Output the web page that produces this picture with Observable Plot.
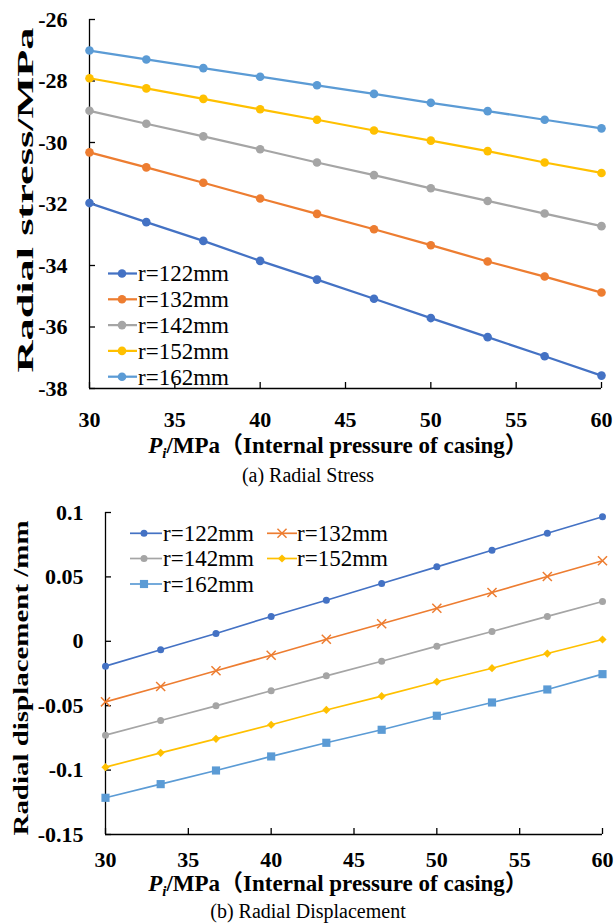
<!DOCTYPE html>
<html><head><meta charset="utf-8">
<script src="https://cdn.jsdelivr.net/npm/d3@7"></script>
<script src="https://cdn.jsdelivr.net/npm/@observablehq/plot@0.6"></script>
<style>
body{margin:0;background:#fff;}
#page{position:relative;width:614px;height:924px;overflow:hidden;background:#fff;}
#top{position:absolute;left:0;top:0;}
#bottom{position:absolute;left:0;top:490px;}
</style></head>
<body><div id="page"><div id="top"></div><div id="bottom"></div></div>
<script>
// ---------- data ----------
const pressure = [30, 33.33, 36.67, 40, 43.33, 46.67, 50, 53.33, 56.67, 60];
const seriesNames = ["r=122mm", "r=132mm", "r=142mm", "r=152mm", "r=162mm"];
const colors = ["#4472C4", "#ED7D31", "#A5A5A5", "#FFC000", "#5B9BD5"];

const stress122 = [-31.97, -32.59, -33.20, -33.85, -34.46, -35.08, -35.71, -36.33, -36.95, -37.58];
const stress132 = [-30.32, -30.81, -31.31, -31.82, -32.32, -32.82, -33.34, -33.87, -34.36, -34.88];
const stress142 = [-28.97, -29.39, -29.80, -30.22, -30.65, -31.06, -31.49, -31.90, -32.31, -32.72];
const stress152 = [-27.91, -28.24, -28.58, -28.92, -29.26, -29.61, -29.94, -30.28, -30.65, -30.99];
const stress162 = [-27.01, -27.30, -27.58, -27.86, -28.14, -28.42, -28.71, -28.98, -29.26, -29.54];

const disp122 = [-0.0193, -0.0066, 0.0061, 0.0193, 0.0319, 0.0449, 0.0578, 0.0707, 0.0839, 0.0967];
const disp132 = [-0.0470, -0.0351, -0.0229, -0.0108, 0.0016, 0.0136, 0.0257, 0.0379, 0.0503, 0.0625];
const disp142 = [-0.0729, -0.0615, -0.0501, -0.0384, -0.0268, -0.0155, -0.0038, 0.0076, 0.0193, 0.0309];
const disp152 = [-0.0977, -0.0866, -0.0757, -0.0648, -0.0533, -0.0426, -0.0314, -0.0209, -0.0095, 0.0014];
const disp162 = [-0.1215, -0.1109, -0.1003, -0.0894, -0.0788, -0.0687, -0.0578, -0.0475, -0.0374, -0.0255];

const xTicks = [30, 35, 40, 45, 50, 55, 60];
const stressTicks = [-38, -36, -34, -32, -30, -28, -26];
const stressTickLabels = ["-38", "-36", "-34", "-32", "-30", "-28", "-26"];
const dispTicks = [-0.15, -0.1, -0.05, 0, 0.05, 0.1];
const dispTickLabels = ["-0.15", "-0.1", "-0.05", "0", "0.05", "0.1"];

const stressYLabel = "Radial stress/MPa";
const dispYLabel = "Radial displacement /mm";
const xLabelRest = "/MPa（Internal pressure of casing）";
const captionA = "(a) Radial Stress";
const captionB = "(b) Radial Displacement";

const stressSeries = [stress122, stress132, stress142, stress152, stress162];
const dispSeries = [disp122, disp132, disp142, disp152, disp162];
const dispSymbols = ["circle", "times", "circle", "diamond2", "square"];
const dispRadius = [3.5, 4.2, 3.5, 3.7, 4.6];

const FONT = "'Liberation Serif', 'Times New Roman', serif";
const FONT_CJK = "'Liberation Serif', 'Noto Sans CJK SC', serif";

function axisMarks({W, H, ml, mr, mt, mb, xmin, ymin, yTicks, yLabels, xPad}) {
  const fw = W - ml - mr, fh = H - mt - mb;
  return [
    Plot.ruleX([xmin], {stroke: "#000", strokeWidth: 1.3}),
    Plot.ruleY([ymin], {stroke: "#000", strokeWidth: 1.3}),
    Plot.tickX(xTicks, {x: d => d, insetTop: fh - 6, stroke: "#000", strokeWidth: 1.3}),
    Plot.tickY(yTicks, {y: d => d, insetRight: fw - 6, stroke: "#000", strokeWidth: 1.3}),
    Plot.axisX(xTicks, {tickSize: 0, tickPadding: xPad, fontSize: 22, fontWeight: "bold", label: null, tickFormat: d => String(d)}),
    Plot.axisY(yTicks, {tickSize: 0, tickPadding: 22, fontSize: 22, fontWeight: "bold", label: null, tickFormat: (d, i) => yLabels[i]})
  ];
}

function addXLabel(svg, cx, baseline) {
  const t = svg.append("text").attr("x", cx).attr("y", baseline).attr("text-anchor", "middle")
    .attr("font-family", FONT_CJK).attr("font-size", 23).attr("font-weight", "bold").attr("fill", "#000");
  t.append("tspan").attr("font-style", "italic").attr("font-family", FONT).text("P");
  t.append("tspan").attr("font-style", "italic").attr("font-family", FONT).attr("font-size", 15).attr("dy", 5).text("i");
  t.append("tspan").attr("dy", -5).text(xLabelRest);
}
function addYLabel(svg, x, cy, size, len, label) {
  svg.append("text").attr("transform", `translate(${x},${cy}) rotate(-90)`).attr("text-anchor", "middle")
    .attr("font-family", FONT).attr("font-size", size).attr("font-weight", "bold").attr("fill", "#000")
    .attr("textLength", len).attr("lengthAdjust", "spacingAndGlyphs").text(label);
}
function addCaption(svg, cx, baseline, text) {
  svg.append("text").attr("x", cx).attr("y", baseline).attr("text-anchor", "middle")
    .attr("font-family", FONT).attr("font-size", 20).attr("font-weight", "normal").attr("fill", "#000").text(text);
}
function addLegendEntry(g, i, x0, x1, xm, xt, y, symbol, r, lw) {
  g.append("line").attr("x1", x0).attr("x2", x1).attr("y1", y).attr("y2", y)
    .attr("stroke", colors[i]).attr("stroke-width", lw);
  const sym = {circle: d3.symbolCircle, times: d3.symbolTimes, diamond2: d3.symbolDiamond2, square: d3.symbolSquare}[symbol];
  const p = g.append("path").attr("d", d3.symbol(sym, Math.PI * r * r)()).attr("transform", `translate(${xm},${y})`);
  if (symbol === "times") p.attr("fill", "none").attr("stroke", colors[i]).attr("stroke-width", 1.5);
  else p.attr("fill", colors[i]);
  g.append("text").attr("x", xt).attr("y", y + 7.8).attr("text-anchor", "start")
    .attr("font-family", FONT).attr("font-size", 23).attr("font-weight", "normal").attr("fill", "#000").text(seriesNames[i]);
}

// ---------- top chart ----------
{
  const W = 614, H = 490, ml = 89, mr = 13, mt = 19, mb = 102;
  const marks = [];
  stressSeries.forEach((vals, i) => {
    marks.push(Plot.line(pressure, {x: d => d, y: (d, j) => vals[j], stroke: colors[i], strokeWidth: 2.25}));
    marks.push(Plot.dot(pressure, {x: d => d, y: (d, j) => vals[j], fill: colors[i], r: 4.3, symbol: "circle"}));
  });
  const chart = Plot.plot({
    width: W, height: H, marginLeft: ml, marginRight: mr, marginTop: mt, marginBottom: mb,
    style: {fontFamily: FONT, background: "#fff", color: "#000", overflow: "visible"},
    x: {domain: [30, 60]}, y: {domain: [-38, -26]},
    marks: [...axisMarks({W, H, ml, mr, mt, mb, xmin: 30, ymin: -38, yTicks: stressTicks, yLabels: stressTickLabels, xPad: 23}), ...marks]
  });
  document.getElementById("top").appendChild(chart);
  const svg = d3.select(chart);
  addYLabel(svg, 33, 200, 24, 345, stressYLabel);
  addXLabel(svg, 338, 453);
  addCaption(svg, 308, 482, captionA);
  const g = svg.append("g");
  seriesNames.forEach((name, i) => addLegendEntry(g, i, 108, 137, 122, 138, 273.5 + i * 25.8, "circle", 4.3, 2.25));
}

// ---------- bottom chart ----------
{
  const W = 614, H = 434, ml = 105, mr = 12, mt = 22, mb = 90;
  const marks = [];
  dispSeries.forEach((vals, i) => {
    marks.push(Plot.line(pressure, {x: d => d, y: (d, j) => vals[j], stroke: colors[i], strokeWidth: 1.7}));
    if (dispSymbols[i] === "times")
      marks.push(Plot.dot(pressure, {x: d => d, y: (d, j) => vals[j], stroke: colors[i], strokeWidth: 1.5, fill: "none", r: dispRadius[i], symbol: "times"}));
    else
      marks.push(Plot.dot(pressure, {x: d => d, y: (d, j) => vals[j], fill: colors[i], r: dispRadius[i], symbol: dispSymbols[i]}));
  });
  const chart = Plot.plot({
    width: W, height: H, marginLeft: ml, marginRight: mr, marginTop: mt, marginBottom: mb,
    style: {fontFamily: FONT, background: "#fff", color: "#000", overflow: "visible"},
    x: {domain: [30, 60]}, y: {domain: [-0.15, 0.1]},
    marks: [...axisMarks({W, H, ml, mr, mt, mb, xmin: 30, ymin: -0.15, yTicks: dispTicks, yLabels: dispTickLabels, xPad: 17}), ...marks]
  });
  document.getElementById("bottom").appendChild(chart);
  const svg = d3.select(chart);
  addYLabel(svg, 28, 188, 22, 315, dispYLabel);
  addXLabel(svg, 338, 401);
  addCaption(svg, 308, 428, captionB);
  const g = svg.append("g");
  const pos = [[130, 162, 144, 163, 43.3], [267, 297, 282, 297, 43.3], [130, 162, 144, 163, 68.5], [267, 297, 282, 297, 68.5], [130, 162, 144, 163, 94]];
  seriesNames.forEach((name, i) => {
    const [x0, x1, xm, xt, y] = pos[i];
    addLegendEntry(g, i, x0, x1, xm, xt, y, dispSymbols[i], dispRadius[i], 1.7);
  });
}
</script>
</body></html>
